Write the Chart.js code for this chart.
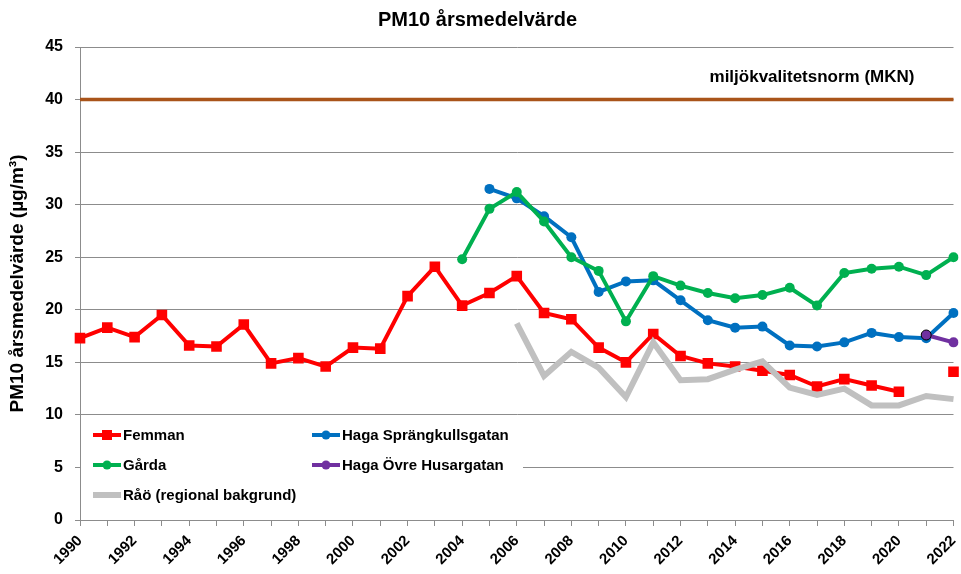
<!DOCTYPE html>
<html>
<head>
<meta charset="utf-8">
<script src="https://cdn.jsdelivr.net/npm/chart.js@4.4.1/dist/chart.umd.min.js"></script>
<style>
  html, body { margin: 0; padding: 0; background: #fff; }
  #wrap { width: 961px; height: 574px; }
</style>
</head>
<body>
<div id="wrap"><canvas id="myChart" width="961" height="574"></canvas></div>
<script>
// Data
const years = [];
for (let y = 1990; y <= 2022; y++) years.push(String(y));

const femman = [17.3, 18.3, 17.4, 19.5, 16.6, 16.5, 18.6, 14.9, 15.4, 14.6,
  16.4, 16.3, 21.3, 24.1, 20.4, 21.6, 23.2, 19.7, 19.1, 16.4,
  15.0, 17.7, 15.6, 14.9, 14.6, 14.2, 13.8, 12.7, 13.4, 12.8,
  12.2, null, 14.1];
const hagaSprangkull = [null, null, null, null, null, null, null, null, null, null,
  null, null, null, null, null, 31.5, 30.6, 28.9, 26.9, 21.7,
  22.7, 22.8, 20.9, 19.0, 18.3, 18.4, 16.6, 16.5, 16.9, 17.8,
  17.4, 17.3, 19.7];
const garda = [null, null, null, null, null, null, null, null, null, null,
  null, null, null, null, 24.8, 29.6, 31.2, 28.4, 25.0, 23.7,
  18.9, 23.2, 22.3, 21.6, 21.1, 21.4, 22.1, 20.4, 23.5, 23.9,
  24.1, 23.3, 25.0];
const hagaOvre = [null, null, null, null, null, null, null, null, null, null,
  null, null, null, null, null, null, null, null, null, null,
  null, null, null, null, null, null, null, null, null, null,
  null, 17.6, 16.9];
const rao = [null, null, null, null, null, null, null, null, null, null,
  null, null, null, null, null, null, 18.7, 13.7, 16.0, 14.5,
  11.7, 16.9, 13.3, 13.4, 14.3, 15.1, 12.6, 11.9, 12.5, 10.9,
  10.9, 11.8, 11.5];
const mkn = years.map(() => 40);

const yTicks = [0, 5, 10, 15, 20, 25, 30, 35, 40, 45];

const FONT = '"Liberation Sans", Arial, sans-serif';
const gridColor = '#8c8c8c';

// Legend inside the plot area (bottom left, white box)
const insideLegend = {
  id: 'insideLegend',
  afterDatasetsDraw(chart) {
    const { ctx, chartArea } = chart;
    ctx.save();
    ctx.fillStyle = '#fff';
    ctx.fillRect(chartArea.left + 1, chartArea.bottom - 100, 442, 96);
    const cols = [chartArea.left + 13, chartArea.left + 232];
    const rows = [chartArea.bottom - 85, chartArea.bottom - 55, chartArea.bottom - 25];
    let i = 0;
    chart.data.datasets.forEach((ds) => {
      if (!ds.inLegend) return;
      const x = cols[i % 2];
      const y = rows[Math.floor(i / 2)];
      ctx.strokeStyle = ds.borderColor;
      ctx.lineWidth = ds.borderWidth;
      ctx.beginPath();
      ctx.moveTo(x, y);
      ctx.lineTo(x + 28, y);
      ctx.stroke();
      if (ds.pointRadius > 0) {
        ctx.fillStyle = ds.backgroundColor;
        if (ds.pointStyle === 'rect') {
          ctx.fillRect(x + 14 - 5, y - 5, 10, 10);
        } else {
          ctx.beginPath();
          ctx.arc(x + 14, y, 4.5, 0, Math.PI * 2);
          ctx.fill();
        }
      }
      ctx.fillStyle = '#000';
      ctx.font = 'bold 15px ' + FONT;
      ctx.textBaseline = 'middle';
      ctx.textAlign = 'left';
      ctx.fillText(ds.label, x + 30, y + 1);
      i++;
    });
    ctx.restore();
  }
};

// Text for the environmental quality standard line
const mknLabel = {
  id: 'mknLabel',
  afterDatasetsDraw(chart) {
    const { ctx, chartArea, scales } = chart;
    ctx.save();
    ctx.fillStyle = '#000';
    ctx.font = 'bold 17px ' + FONT;
    ctx.textAlign = 'right';
    ctx.textBaseline = 'middle';
    ctx.fillText('miljökvalitetsnorm (MKN)', chartArea.right - 39, scales.y.getPixelForValue(40) - 22);
    ctx.restore();
  }
};

const ctx = document.getElementById('myChart').getContext('2d');

new Chart(ctx, {
  type: 'line',
  data: {
    labels: years,
    datasets: [
      {
        label: 'Femman', data: femman, inLegend: true, order: 5,
        borderColor: '#ff0000', backgroundColor: '#ff0000', borderWidth: 4,
        pointStyle: 'rect', pointRadius: 7.5, pointBorderWidth: 0, spanGaps: false
      },
      {
        label: 'Haga Sprängkullsgatan', data: hagaSprangkull, inLegend: true, order: 4,
        borderColor: '#0070c0', backgroundColor: '#0070c0', borderWidth: 4,
        pointStyle: 'circle', pointRadius: 5, pointBorderWidth: 0
      },
      {
        label: 'Gårda', data: garda, inLegend: true, order: 3,
        borderColor: '#00b050', backgroundColor: '#00b050', borderWidth: 4,
        pointStyle: 'circle', pointRadius: 5, pointBorderWidth: 0
      },
      {
        label: 'Haga Övre Husargatan', data: hagaOvre, inLegend: true, order: 2,
        borderColor: '#7030a0', backgroundColor: '#7030a0', borderWidth: 4,
        pointStyle: 'circle', pointRadius: 5,
        pointBorderWidth: (c) => (c.dataIndex === 31 ? 1 : 0),
        pointBorderColor: (c) => (c.dataIndex === 31 ? '#000' : '#7030a0')
      },
      {
        label: 'Råö (regional bakgrund)', data: rao, inLegend: true, order: 1,
        borderColor: '#c0c0c0', backgroundColor: '#c0c0c0', borderWidth: 6,
        pointRadius: 0
      },
      {
        label: 'MKN', data: mkn, inLegend: false, order: 6,
        borderColor: '#a9541a', backgroundColor: '#a9541a', borderWidth: 3.5,
        pointRadius: 0
      }
    ]
  },
  options: {
    responsive: false,
    animation: false,
    layout: { padding: { right: 6, left: 0, bottom: 0, top: 0 } },
    elements: { line: { tension: 0 } },
    plugins: {
      legend: { display: false },
      tooltip: { enabled: false },
      title: {
        display: true,
        text: 'PM10 årsmedelvärde',
        color: '#000',
        font: { family: FONT, size: 20, weight: 'bold', lineHeight: 1.2 },
        padding: { top: 8, bottom: 15 }
      }
    },
    scales: {
      x: {
        offset: false,
        grid: { drawOnChartArea: false, drawTicks: true, tickLength: 6, color: gridColor },
        border: { color: gridColor },
        ticks: {
          autoSkip: false,
          maxRotation: 45,
          minRotation: 45,
          padding: 6,
          color: '#000',
          font: { family: FONT, size: 15, weight: 'bold' },
          callback: (v, i) => (Number(years[i]) % 2 === 0 ? years[i] : '')
        },
        afterFit: (s) => { s.height = 54; s.paddingRight = 0; }
      },
      y: {
        min: 0,
        max: 45,
        afterBuildTicks: (s) => { s.ticks = yTicks.map((v) => ({ value: v })); },
        grid: { color: gridColor, tickLength: 5 },
        border: { color: gridColor },
        ticks: {
          padding: 12,
          color: '#000',
          font: { family: FONT, size: 16, weight: 'bold' }
        },
        title: {
          display: true,
          text: 'PM10 årsmedelvärde (µg/m³)',
          color: '#000',
          font: { family: FONT, size: 19, weight: 'bold' },
          padding: { top: 6, bottom: 0 }
        },
        afterFit: (s) => { s.width = 80; }
      }
    }
  },
  plugins: [insideLegend, mknLabel]
});
</script>
</body>
</html>
